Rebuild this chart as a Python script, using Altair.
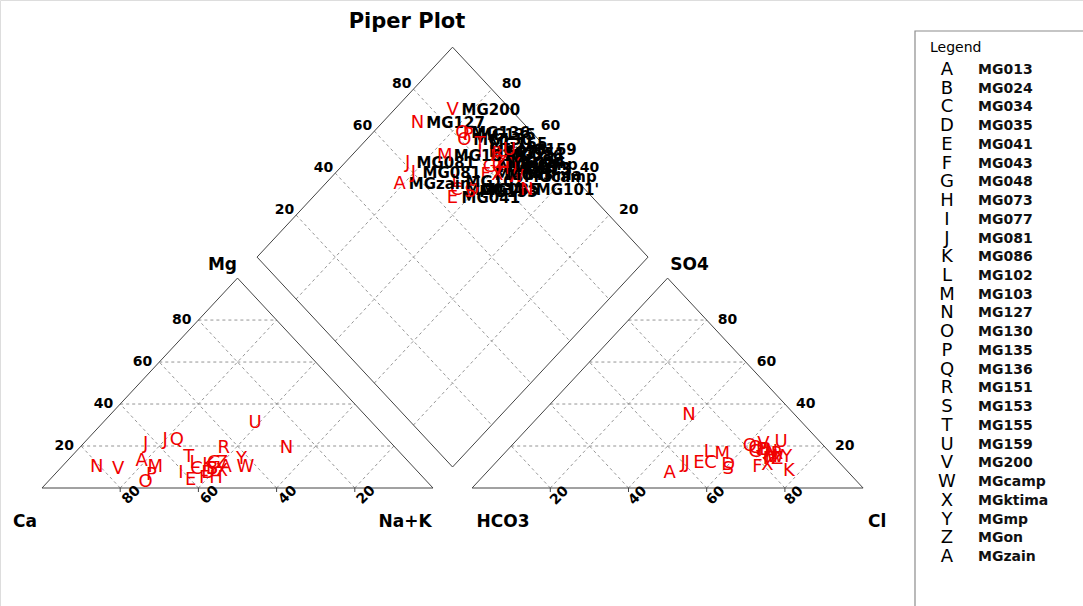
import altair as alt
import numpy as np
import pandas as pd

# ---------------------------------------------------------------- samples
letters = ["A", "B", "C", "D", "E", "F", "G", "H", "I", "J", "K", "L", "M", "N",
           "O", "P", "Q", "R", "S", "T", "U", "V", "W", "X", "Y", "Z", "A", "N", "J"]
names = ["MG013", "MG024", "MG034", "MG035", "MG041", "MG043", "MG048", "MG073",
         "MG077", "MG081", "MG086", "MG102", "MG103", "MG127", "MG130", "MG135",
         "MG136", "MG151", "MG153", "MG155", "MG159", "MG200", "MGcamp", "MGktima",
         "MGmp", "MGon", "MGzain", "MG101'", "MG081"]
# cations, % of meq
ca = [48, 52, 56, 54, 60, 56, 50, 53, 61, 63, 52, 55, 66, 81, 72, 69, 54, 44, 52,
      55, 30, 76, 43, 50, 42, 48, 68, 28, 57]
mg = [10, 9, 9, 7, 4, 5, 12, 5, 7, 21, 11, 12, 10, 10, 3, 6, 23, 19, 9, 15, 31, 9,
      10, 8, 14, 12, 13, 19, 23]
nak = [42, 39, 35, 39, 36, 39, 38, 42, 32, 16, 37, 33, 24, 9, 25, 25, 23, 37, 39,
       30, 39, 15, 47, 42, 44, 40, 19, 53, 20]
# anions, % of meq
hco3 = [16, 16, 33, 29, 36, 22, 19, 16, 18, 39, 15, 31, 28, 27, 19, 17, 18, 14, 30,
        16, 10, 15, 15, 19, 12, 15, 46, 15, 40]
cl = [68, 66, 55, 60, 52, 68, 64, 69, 68, 49, 77, 52, 56, 38, 61, 65, 63, 70, 61,
      70, 68, 64, 70, 70, 73, 71, 47, 68, 48]
so4 = [16, 18, 12, 11, 12, 10, 17, 15, 14, 12, 8, 17, 16, 35, 20, 18, 19, 16, 9, 14,
       22, 21, 15, 11, 15, 14, 7, 17, 12]

legend_letters = list("ABCDEFGHIJKLMNOPQRSTUVWXYZ") + ["A"]
legend_names = ["MG013", "MG024", "MG034", "MG035", "MG041", "MG043", "MG048",
                "MG073", "MG077", "MG081", "MG086", "MG102", "MG103", "MG127",
                "MG130", "MG135", "MG136", "MG151", "MG153", "MG155", "MG159",
                "MG200", "MGcamp", "MGktima", "MGmp", "MGon", "MGzain"]

tick_values = [20, 40, 60, 80]

# ---------------------------------------------------------------- geometry
H = np.sqrt(3) / 2          # triangle height for unit side
GAP = 0.1                   # gap between the two triangles
OX = 1 + GAP                # left corner of the anion triangle

W_PX, H_PX = 1083, 606
X0_PX, Y0_PX = 42, 488      # where the Ca corner sits on the page
SX, SY = 391.0, 242.4       # pixels per unit, horizontally / vertically


def ux(px):
    return (px - X0_PX) / SX


def uy(py):
    return (Y0_PX - py) / SY


xscale = alt.Scale(domain=[ux(0), ux(W_PX)], nice=False, zero=False)
yscale = alt.Scale(domain=[uy(H_PX), uy(0)], nice=False, zero=False)


def diamond(n, a):
    return (OX + a + n) / 2, (OX + a - n) * H


FONT = "DejaVu Sans"
RED = "#f00000"

# ---------------------------------------------------------------- frame
outline = [
    (0, 0, 1, 0), (1, 0, 0.5, H), (0.5, H, 0, 0),
    (OX, 0, OX + 1, 0), (OX + 1, 0, OX + 0.5, H), (OX + 0.5, H, OX, 0),
]
corners = [diamond(0, 0), diamond(0, 1), diamond(1, 1), diamond(1, 0)]
for i in range(4):
    (xa, ya), (xb, yb) = corners[i], corners[(i + 1) % 4]
    outline.append((xa, ya, xb, yb))
outline_df = pd.DataFrame(outline, columns=["x", "y", "x2", "y2"])

grid = []
for t in tick_values:
    v = t / 100
    # cation triangle
    grid.append((v / 2, v * H, 1 - v / 2, v * H))
    grid.append((1 - v, 0, (1 - v) / 2, (1 - v) * H))
    grid.append((v, 0, v + (1 - v) / 2, (1 - v) * H))
    # anion triangle
    grid.append((OX + v / 2, v * H, OX + 1 - v / 2, v * H))
    grid.append((OX + v, 0, OX + v + (1 - v) / 2, (1 - v) * H))
    grid.append((OX + 1 - v, 0, OX + (1 - v) / 2, (1 - v) * H))
    # diamond
    (xa, ya), (xb, yb) = diamond(0, v), diamond(1, v)
    grid.append((xa, ya, xb, yb))
    (xa, ya), (xb, yb) = diamond(v, 0), diamond(v, 1)
    grid.append((xa, ya, xb, yb))
grid_df = pd.DataFrame(grid, columns=["x", "y", "x2", "y2"])

tick_len = 4 / SY
ticks = []
for t in tick_values:
    v = t / 100
    ticks.append((v, 0, v, -tick_len))
    ticks.append((OX + v, 0, OX + v, -tick_len))
ticks_df = pd.DataFrame(ticks, columns=["x", "y", "x2", "y2"])


def enc_rule(df):
    return alt.Chart(df).encode(
        x=alt.X("x:Q", scale=xscale, axis=None),
        y=alt.Y("y:Q", scale=yscale, axis=None),
        x2="x2:Q", y2="y2:Q",
    )


grid_layer = enc_rule(grid_df).mark_rule(color="#7a7a7a", strokeWidth=0.8, strokeDash=[3, 3])
outline_layer = enc_rule(outline_df).mark_rule(color="#444444", strokeWidth=1)
tick_layer = enc_rule(ticks_df).mark_rule(color="#444444", strokeWidth=1)


def text_layer(df, **mark):
    return alt.Chart(df).mark_text(font=FONT, **mark).encode(
        x=alt.X("x:Q", scale=xscale, axis=None),
        y=alt.Y("y:Q", scale=yscale, axis=None),
        text="label:N",
    )


# ---------------------------------------------------------------- axis labels
lbl = [str(t) for t in tick_values]
left_edge = pd.DataFrame({"x": [t / 200 for t in tick_values],
                          "y": [t / 100 * H for t in tick_values], "label": lbl})
right_edge = pd.DataFrame({"x": [OX + 1 - t / 200 for t in tick_values],
                           "y": [t / 100 * H for t in tick_values], "label": lbl})
base_left = pd.DataFrame({"x": [1 - t / 100 for t in tick_values],
                          "y": [0.0] * 4, "label": lbl})
base_right = pd.DataFrame({"x": [OX + t / 100 for t in tick_values],
                           "y": [0.0] * 4, "label": lbl})
dia_ul = pd.DataFrame({"x": [diamond(0, t / 100)[0] for t in tick_values],
                       "y": [diamond(0, t / 100)[1] for t in tick_values], "label": lbl})
dia_ur = pd.DataFrame({"x": [diamond(1 - t / 100, 1)[0] for t in tick_values],
                       "y": [diamond(1 - t / 100, 1)[1] for t in tick_values], "label": lbl})

tick_style = dict(fontSize=14, fontWeight="bold", color="black", baseline="middle")
axis_labels = [
    text_layer(left_edge, align="right", dx=-7, **tick_style),
    text_layer(right_edge, align="left", dx=11, **tick_style),
    text_layer(base_left, align="center", dx=3, dy=13, angle=315, **tick_style),
    text_layer(base_right, align="center", dx=1, dy=12, angle=315, **tick_style),
    text_layer(dia_ul, align="right", dx=-2, dy=-5, **tick_style),
    text_layer(dia_ur, align="left", dx=10, dy=-5, **tick_style),
]

corner_style = dict(fontSize=17, fontWeight="bold", color="black", baseline="middle",
                    align="center")
corner_specs = [
    ("Ca", 0, 0, -17, 34), ("Na+K", 1, 0, -28, 34), ("Mg", 0.5, H, -15, -13),
    ("HCO3", OX, 0, 31, 34), ("Cl", OX + 1, 0, 14, 34), ("SO4", OX + 0.5, H, 22, -13),
]
corner_layers = [
    text_layer(pd.DataFrame({"x": [x], "y": [y], "label": [s]}), dx=dx, dy=dy, **corner_style)
    for s, x, y, dx, dy in corner_specs
]

# ---------------------------------------------------------------- samples
n_frac = np.array(nak) / 100
m_frac = np.array(mg) / 100
s_frac = np.array(so4) / 100
c_frac = np.array(cl) / 100
a_frac = c_frac + s_frac

cat_df = pd.DataFrame({"x": n_frac + m_frac / 2, "y": m_frac * H, "label": letters})
an_df = pd.DataFrame({"x": OX + c_frac + s_frac / 2, "y": s_frac * H, "label": letters})
dx_, dy_ = diamond(n_frac, a_frac)
dia_df = pd.DataFrame({"x": dx_, "y": dy_, "label": letters})
dia_names = pd.DataFrame({"x": dx_, "y": dy_, "label": names})

point_style = dict(fontSize=18, color=RED, align="center", baseline="middle")
point_layers = [
    text_layer(cat_df, **point_style),
    text_layer(an_df, **point_style),
]
diamond_layers = []
for i in range(len(letters)):
    diamond_layers.append(text_layer(dia_df.iloc[[i]], **point_style))
    diamond_layers.append(text_layer(dia_names.iloc[[i]], fontSize=15, fontWeight="bold",
                                     color="black", align="left", baseline="middle", dx=9))

# ---------------------------------------------------------------- legend
LEG_LEFT, LEG_TOP = 915, 31
ROW0, ROW_STEP = 70, 18.73
rows = np.arange(len(legend_letters))
leg_letters = pd.DataFrame({"x": ux(947.0), "y": uy(ROW0 + rows * ROW_STEP),
                            "label": legend_letters})
leg_names = pd.DataFrame({"x": ux(978.0), "y": uy(ROW0 + rows * ROW_STEP),
                          "label": legend_names})
leg_title = pd.DataFrame({"x": [ux(930.0)], "y": [uy(48.0)], "label": ["Legend"]})

legend_box = alt.Chart(pd.DataFrame({"k": [0]})).mark_rect(
    fillOpacity=0, stroke="#8c8c8c", strokeWidth=1.2
).encode(x=alt.value(LEG_LEFT), x2=alt.value(W_PX + 40),
         y=alt.value(LEG_TOP), y2=alt.value(H_PX + 40))

legend_layers = [
    legend_box,
    text_layer(leg_title, fontSize=14, color="black", align="left", baseline="middle"),
    text_layer(leg_letters, fontSize=18, color="black", align="center", baseline="middle"),
    text_layer(leg_names, fontSize=14, fontWeight="bold", color="#111111", align="left",
               baseline="middle"),
]

title = alt.Chart(pd.DataFrame({"label": ["Piper Plot"]})).mark_text(
    font=FONT, fontSize=21, fontWeight="bold", color="black", align="center",
    baseline="middle"
).encode(x=alt.value(407), y=alt.value(22), text="label:N")

chart = alt.layer(
    grid_layer, outline_layer, tick_layer,
    *axis_labels, *corner_layers,
    *point_layers, *diamond_layers,
    *legend_layers, title,
).properties(
    width=W_PX, height=H_PX, padding=0,
    autosize=alt.AutoSizeParams(type="none"),
).configure_view(stroke=None).configure(background="white")

chart.save("out.html", embed_options={"renderer": "svg", "actions": False})
